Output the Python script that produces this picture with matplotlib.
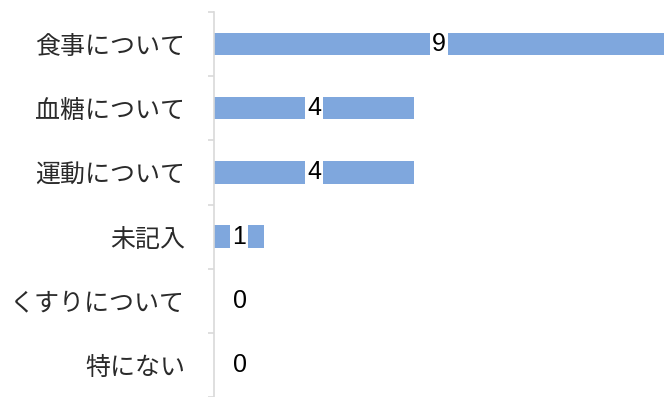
import matplotlib.pyplot as plt

plt.rcParams['font.family'] = ['Noto Sans CJK JP', 'DejaVu Sans']

categories = ['食事について', '血糖について', '運動について', '未記入', 'くすりについて', '特にない']
counts = [9, 4, 4, 1, 0, 0]

fig = plt.figure(figsize=(6.68, 3.97), dpi=100)
ax = fig.add_axes([214 / 668, 0, 454 / 668, 385 / 397])

y = list(range(len(categories)))
ax.barh(y, counts, height=0.35, color='#7fa7dd', zorder=2)

ax.set_xlim(0, 9 * 454 / 450)
ax.set_ylim(len(categories) - 0.5, -0.5)

# value labels sit in the middle of each bar on a white patch
for yi, v in zip(y, counts):
    xpos = v / 2 if v > 0 else 0.52
    ax.text(xpos, yi, str(v), ha='center', va='center', fontsize=18,
            family='Liberation Sans', color='black', zorder=3,
            bbox=dict(boxstyle='square,pad=0.08', fc='white', ec='none') if v > 0 else None)

for side in ['top', 'right', 'bottom']:
    ax.spines[side].set_visible(False)
ax.spines['left'].set_color('#d9d9d9')
ax.spines['left'].set_linewidth(1.2)

ax.set_xticks([])
ax.set_yticks(y)
ax.set_yticklabels(categories, fontsize=18, color='#2a2a2a')
ax.tick_params(axis='y', which='major', length=0, pad=21)
ax.set_yticks([i - 0.5 for i in range(len(categories) + 1)], minor=True)
ax.tick_params(axis='y', which='minor', length=4, color='#d9d9d9', width=1.2)

fig.savefig('out.png', dpi=100)
